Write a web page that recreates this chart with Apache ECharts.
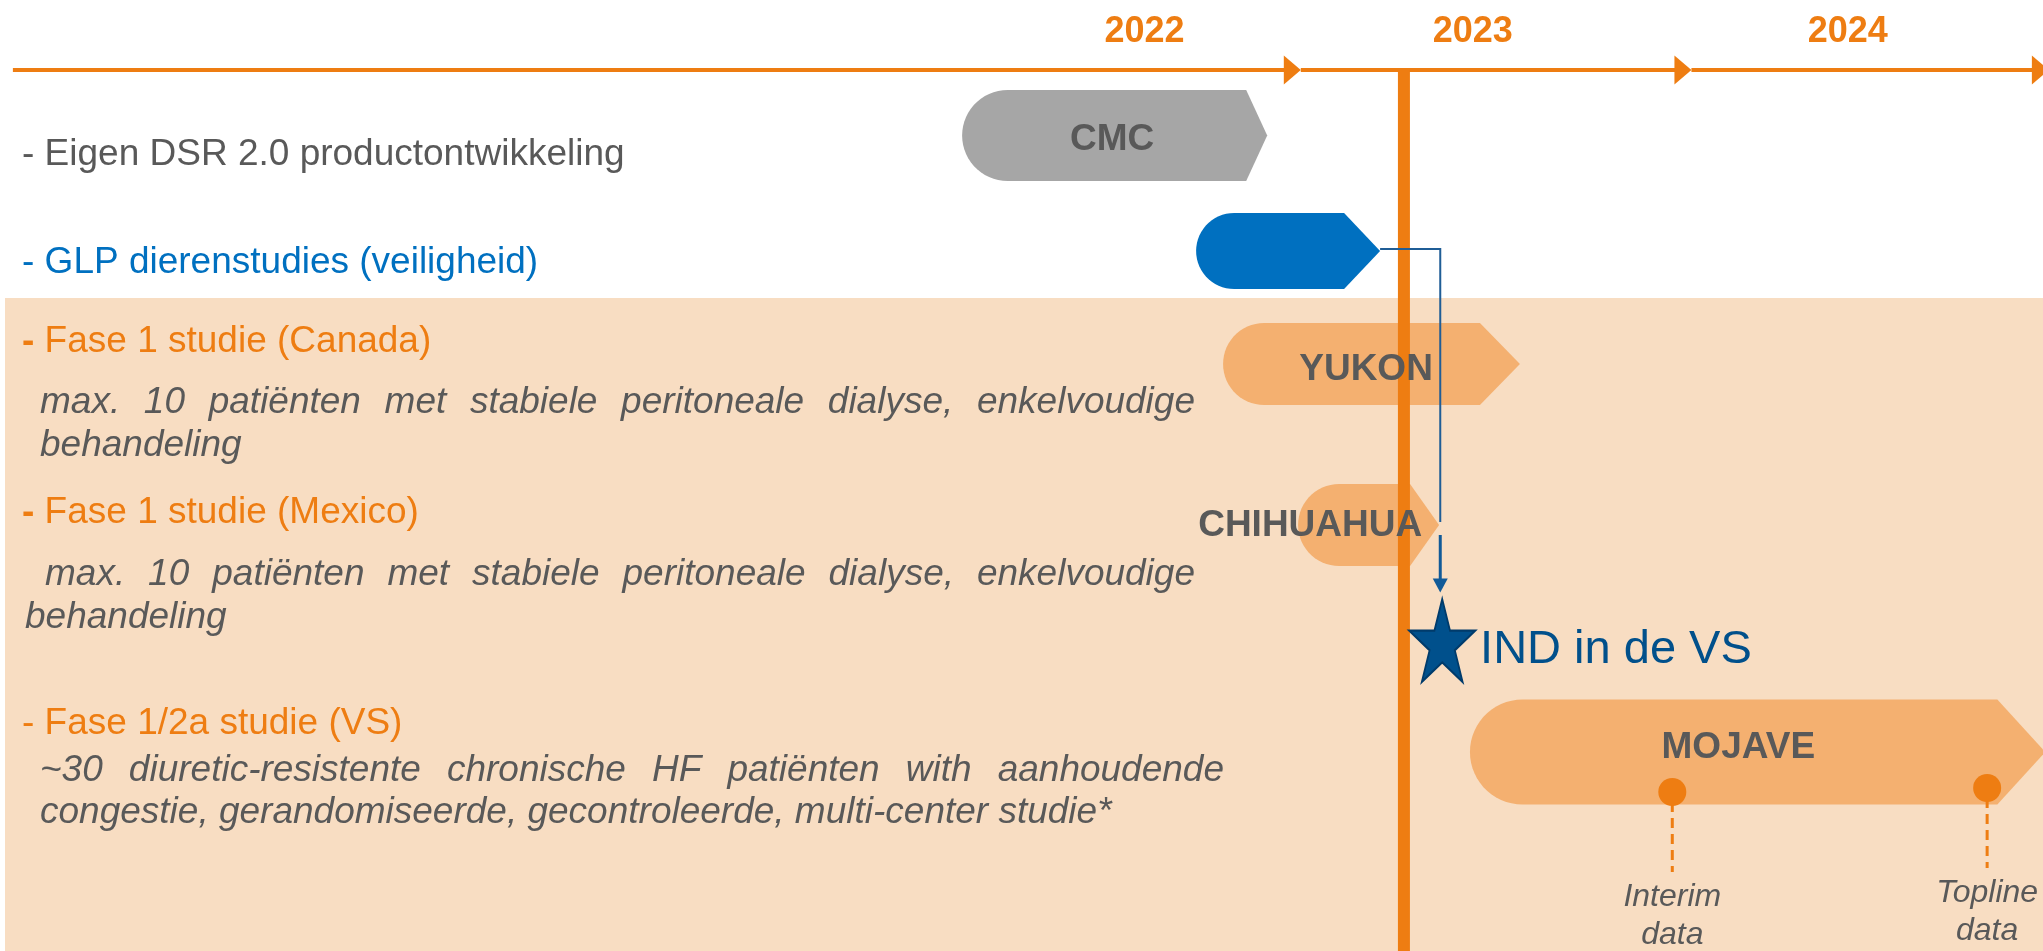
<!DOCTYPE html>
<html>
<head>
  <meta charset="utf-8">
  <title>Tijdlijn</title>
  <script src="https://cdn.jsdelivr.net/npm/echarts@6/dist/echarts.min.js"></script>
  <style>
    html, body { margin: 0; padding: 0; background: #fff; }
    #main { width: 2043px; height: 951px; }
  </style>
</head>
<body>
  <div id="main"></div>
  <script type="text/javascript">
    // ---- data (x in years, y in lane units of the vertical axis) ----
    var yearNames = ['2022', '2023', '2024'];
    var yearLabelAt = [2022.6, 2023.44, 2024.4];
    var yearSegStart = [2019.703, 2023.0, 2024.0];
    var yearSegEnd = [2023.0, 2024.0, 2024.915];
    var axisLane = 70;
    var todayAt = 2023.264;

    var barNames = ['CMC', 'GLP', 'YUKON', 'CHIHUAHUA', 'MOJAVE'];
    var barStart = [2022.133, 2022.732, 2022.801, 2022.993, 2023.433];
    var barEnd = [2022.914, 2023.203, 2023.561, 2023.354, 2024.906];
    var barLane = [135.5, 251, 364, 525, 752];
    var barLabels = ['CMC', '', 'YUKON', 'CHIHUAHUA', 'MOJAVE'];
    var barLabelAt = [2022.517, 2022.95, 2023.167, 2023.024, 2024.12];

    var milestoneNames = ['Interim\ndata', 'Topline\ndata'];
    var milestoneAt = [2023.951, 2024.757];
    var milestoneLane = [792, 788];

    var indName = 'IND in de VS';
    var indAt = 2023.357;
    var indLane = 640.5;

    // ---- styles ----
    var ORANGE = '#EE7D12';
    var PEACH = '#F8DDC2';
    var GRAY_TXT = '#595959';
    var BLUE = '#0070C0';
    var NAVY = '#01508B';
    var FONT = '"Liberation Sans", Arial, sans-serif';
    var barColor = ['#A6A6A6', '#0070C0', '#F4B070', '#F4B070', '#F4B070'];
    var barHeight = [91, 76, 82, 82, 105];
    var barTip = [21, 36, 40, 29, 48];
    var labelDy = [4, 0, 6, 1, -4];
    var TDY = 5; // text baseline correction for left column

    var ctx = document.createElement('canvas').getContext('2d');
    function measure(text, font) {
      ctx.font = font;
      return ctx.measureText(text).width;
    }

    function txt(text, x, y, font, color) {
      return {
        type: 'text', x: x, y: y + TDY, z: 10,
        style: {
          text: text, font: font, fill: color,
          textAlign: 'left', textVerticalAlign: 'middle', align: 'left', verticalAlign: 'middle'
        }
      };
    }

    // justified line: spread words between x0 and x1
    function justify(text, x0, x1, y, font, color) {
      var words = text.split(' ');
      var widths = words.map(function (w) { return measure(w, font); });
      var total = widths.reduce(function (a, b) { return a + b; }, 0);
      var gap = (x1 - x0 - total) / (words.length - 1);
      var x = x0;
      var els = [];
      for (var i = 0; i < words.length; i++) {
        els.push(txt(words[i], x, y, font, color));
        x += widths[i] + gap;
      }
      return els;
    }

    var fN = '37px ' + FONT;
    var fB = 'bold 37px ' + FONT;
    var fI = 'italic 37px ' + FONT;
    var dashW = measure('- ', fN);

    var graphics = [
      { type: 'rect', z: 0, shape: { x: 5, y: 298, width: 2040, height: 660 }, style: { fill: PEACH } },
      txt('- Eigen DSR 2.0 productontwikkeling', 22, 150, fN, GRAY_TXT),
      txt('- GLP dierenstudies (veiligheid)', 22, 258, fN, BLUE),
      txt('-', 22, 337, fB, ORANGE),
      txt('Fase 1 studie (Canada)', 22 + dashW, 337, fN, ORANGE),
      txt('behandeling', 40, 441, fI, GRAY_TXT),
      txt('-', 22, 508, fB, ORANGE),
      txt('Fase 1 studie (Mexico)', 22 + dashW, 508, fN, ORANGE),
      txt('behandeling', 25, 613, fI, GRAY_TXT),
      txt('- Fase 1/2a studie (VS)', 22, 719, fN, ORANGE),
      txt('congestie, gerandomiseerde, gecontroleerde, multi-center studie*', 40, 808, fI, GRAY_TXT)
    ];
    graphics = graphics
      .concat(justify('max. 10 patiënten met stabiele peritoneale dialyse, enkelvoudige', 40, 1195, 398, fI, GRAY_TXT))
      .concat(justify('max. 10 patiënten met stabiele peritoneale dialyse, enkelvoudige', 45, 1195, 570, fI, GRAY_TXT))
      .concat(justify('~30 diuretic-resistente chronische HF patiënten with aanhoudende', 40, 1224, 766, fI, GRAY_TXT));

    // ---- render functions ----
    function renderYear(params, api) {
      var i = params.dataIndex;
      var a = api.coord([api.value(0), api.value(2)]);
      var b = api.coord([api.value(1), api.value(2)]);
      var lp = api.coord([api.value(3), api.value(2)]);
      var aw = 17, ah = 29;
      return {
        type: 'group', children: [
          { type: 'line', shape: { x1: a[0], y1: a[1], x2: b[0] - aw + 2, y2: b[1] }, style: { stroke: ORANGE, lineWidth: 4 } },
          { type: 'polygon', shape: { points: [[b[0] - aw, b[1] - ah / 2], [b[0], b[1]], [b[0] - aw, b[1] + ah / 2]] }, style: { fill: ORANGE } },
          {
            type: 'text', x: lp[0], y: lp[1] - 38,
            style: { text: yearNames[i], font: 'bold 36px ' + FONT, fill: ORANGE, textAlign: 'center', textVerticalAlign: 'middle', align: 'center', verticalAlign: 'middle' }
          }
        ]
      };
    }

    function renderBar(params, api) {
      var i = params.dataIndex;
      var p0 = api.coord([api.value(0), api.value(2)]);
      var p1 = api.coord([api.value(1), api.value(2)]);
      var r = barHeight[i] / 2, tip = barTip[i];
      var x0 = p0[0], x1 = p1[0], cy = p0[1];
      var pts = [];
      for (var k = 0; k <= 30; k++) {
        var ang = Math.PI / 2 + Math.PI * k / 30;
        pts.push([x0 + r + r * Math.cos(ang), cy + r * Math.sin(ang)]);
      }
      pts.push([x1 - tip, cy - r], [x1, cy], [x1 - tip, cy + r]);
      return { type: 'polygon', shape: { points: pts }, style: { fill: barColor[i] } };
    }

    function renderBarLabel(params, api) {
      var i = params.dataIndex;
      if (!barLabels[i]) return null;
      var p = api.coord([api.value(0), api.value(1)]);
      return {
        type: 'text', x: p[0], y: p[1] + labelDy[i],
        style: { text: barLabels[i], font: fB, fill: GRAY_TXT, textAlign: 'center', textVerticalAlign: 'middle', align: 'center', verticalAlign: 'middle' }
      };
    }

    function renderToday(params, api) {
      var top = api.coord([api.value(0), api.value(1)]);
      var h = api.getHeight();
      return { type: 'rect', shape: { x: top[0] - 6, y: top[1], width: 12, height: h - top[1] }, style: { fill: ORANGE } };
    }

    function renderConnector(params, api) {
      var from = api.coord([api.value(0), api.value(1)]);
      var to = api.coord([api.value(2), api.value(3)]);
      var bend = api.coord([api.value(2), api.value(4)]);
      var arrowEnd = to[1] - 48;
      return {
        type: 'group', children: [
          { type: 'polyline', shape: { points: [[from[0], from[1] - 2], [to[0], from[1] - 2], [to[0], bend[1] - 3]] }, style: { stroke: '#1F5D96', lineWidth: 2, fill: null } },
          { type: 'line', shape: { x1: to[0], y1: bend[1] + 10, x2: to[0], y2: arrowEnd - 12 }, style: { stroke: '#115A98', lineWidth: 3 } },
          { type: 'polygon', shape: { points: [[to[0] - 7.5, arrowEnd - 14], [to[0] + 7.5, arrowEnd - 14], [to[0], arrowEnd]] }, style: { fill: '#115A98' } }
        ]
      };
    }

    function renderMilestone(params, api) {
      var i = params.dataIndex;
      var p = api.coord([api.value(0), api.value(1)]);
      return {
        type: 'group', children: [
          { type: 'line', shape: { x1: p[0], y1: p[1] + 10, x2: p[0], y2: p[1] + 80 }, style: { stroke: ORANGE, lineWidth: 3, lineDash: [10, 6] } },
          { type: 'circle', shape: { cx: p[0], cy: p[1], r: 14 }, style: { fill: ORANGE } },
          {
            type: 'text', x: p[0], y: p[1] + 124,
            style: { text: milestoneNames[i], font: 'italic 32px ' + FONT, lineHeight: 38, fill: GRAY_TXT, textAlign: 'center', textVerticalAlign: 'middle', align: 'center', verticalAlign: 'middle' }
          }
        ]
      };
    }

    var starPath = 'path://M50,0 L61.2,34.5 L97.6,34.5 L68.2,55.9 L79.4,90.5 L50,69.1 L20.6,90.5 L31.8,55.9 L2.4,34.5 L38.8,34.5 Z';

    var option = {
      backgroundColor: '#fff',
      animation: false,
      grid: { left: 0, right: 0, top: 0, bottom: 0 },
      xAxis: { type: 'value', min: 2019.67, max: 2024.9, show: false },
      yAxis: { type: 'value', min: 0, max: 951, inverse: true, show: false },
      graphic: graphics,
      series: [
        {
          name: 'jaren', type: 'custom', z: 3, clip: false, renderItem: renderYear,
          data: yearNames.map(function (n, i) { return [yearSegStart[i], yearSegEnd[i], axisLane, yearLabelAt[i]]; })
        },
        {
          name: 'fases', type: 'custom', z: 2, clip: false, renderItem: renderBar,
          data: barNames.map(function (n, i) { return [barStart[i], barEnd[i], barLane[i]]; })
        },
        {
          name: 'vandaag', type: 'custom', z: 3, clip: false, renderItem: renderToday,
          data: [[todayAt, axisLane]]
        },
        {
          name: 'labels', type: 'custom', z: 4, clip: false, renderItem: renderBarLabel,
          data: barNames.map(function (n, i) { return [barLabelAt[i], barLane[i]]; })
        },
        {
          name: 'mijlpalen', type: 'custom', z: 4, clip: false, renderItem: renderMilestone,
          data: milestoneNames.map(function (n, i) { return [milestoneAt[i], milestoneLane[i]]; })
        },
        {
          name: 'verbinding', type: 'custom', z: 5, clip: false, renderItem: renderConnector,
          data: [[barEnd[1], barLane[1], indAt, indLane, barLane[3]]]
        },
        {
          name: 'IND', type: 'scatter', z: 6,
          symbol: starPath, symbolSize: [66, 83],
          itemStyle: { color: '#00508C', borderColor: '#003B6B', borderWidth: 2, opacity: 1 },
          label: {
            show: true, position: 'right', distance: 4, offset: [0, 10],
            formatter: indName, fontSize: 47, fontFamily: FONT, color: NAVY
          },
          emphasis: { disabled: true },
          data: [[indAt + 0.005, indLane]]
        }
      ]
    };

    var myChart = echarts.init(document.getElementById('main'));
    myChart.setOption(option);
  </script>
</body>
</html>
